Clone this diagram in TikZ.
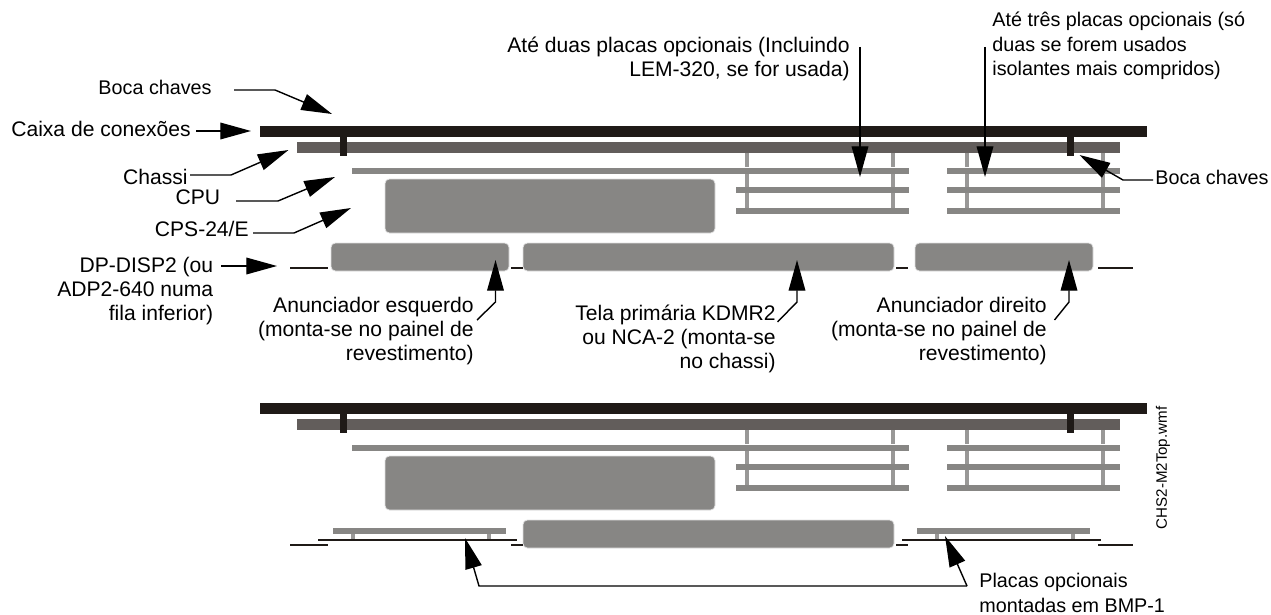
\documentclass[tikz,border=0pt]{standalone}
\usepackage{fontspec}
\setmainfont{Liberation Sans}
\usepackage{xcolor}
\usetikzlibrary{arrows.meta}
\definecolor{barblack}{HTML}{1F1A17}
\definecolor{barchassi}{HTML}{625D5B}
\definecolor{bargray}{HTML}{878684}
\definecolor{legray}{HTML}{999897}
\tikzset{x=.02cm, y=-.02cm,
 txt/.style={inner sep=0pt, font=\fontsize{12}{13.8}\selectfont},
 txts/.style={font=\fontsize{11.25}{13.8}\selectfont},
 txtl/.style={txt, anchor=east, align=right},
 txtr/.style={txt, anchor=west, align=left},
 pointer/.style={line width=.8pt, -{Triangle[length=17.5pt,width=9.5pt]}},
 thin line/.style={line width=.6pt, barblack},
 panel/.style={fill=bargray, draw=black!12, line width=.4pt, rounded corners=2.5pt},
 }

\begin{document}
\begin{tikzpicture}
        \useasboundingbox (0,0) rectangle (1271,615);
        % both rows share the same enclosure
        \foreach \y in {0, 277} {
            \foreach \a/\b in {745/749, 891/895, 965/969, 1101/1105} {
                \fill[legray] (\a, 153+\y) rectangle (\b, 167+\y);
                \fill[legray] (\a, 174+\y) rectangle (\b, 208+\y);
            }
            \fill[barblack] (260, 126+\y) rectangle (1147, 137+\y);
            \fill[barchassi] (297, 142+\y) rectangle (1120, 153+\y);
            \fill[barblack] (340, 137+\y) rectangle (347, 156+\y);
            \fill[barblack] (1067, 137+\y) rectangle (1074, 156+\y);
            \fill[bargray] (352, 168+\y) rectangle (909, 174+\y);
            \fill[bargray] (947, 168+\y) rectangle (1120, 174+\y);
            \foreach \r in {187, 208} {
                \fill[bargray] (736, \r+\y) rectangle (909, \r+6+\y);
                \fill[bargray] (947, \r+\y) rectangle (1120, \r+6+\y);
            }
            \draw[panel] (385, 179+\y) rectangle (715, 233+\y);
            \draw[panel] (523, 243+\y) rectangle (894, 271+\y);
            \draw[thin line] (290, 268+\y) -- (328, 268+\y);
            \draw[thin line] (511, 268+\y) -- (523, 268+\y);
            \draw[thin line] (896, 268+\y) -- (908, 268+\y);
            \draw[thin line] (1098, 268+\y) -- (1133, 268+\y);
        }
        % upper row only
        \draw[panel] (331, 243) rectangle (509, 271);
        \draw[panel] (915, 243) rectangle (1093, 271);
        % BMP-1 boards, lower row
        \foreach \a/\b/\c/\d/\e/\f in {318/517/333/506/351/487, 902/1101/917/1090/935/1071} {
            \fill[bargray] (\c, 528) rectangle (\d, 534);
            \fill[legray] (\e, 534) rectangle (\e+4, 540);
            \fill[legray] (\f, 534) rectangle (\f+4, 540);
            \draw[thin line] (\a, 540) -- (\b, 540);
        }

        \node[txtl, txts] (boca) at (212, 87) {Boca chaves};
        \node[txtl] (caixa) at (191, 129) {Caixa de conexões};
        \node[txtl] (chassi) at (188, 177) {Chassi};
        \node[txtl] (cpu) at (220.5, 197) {CPU};
        \node[txtl] (cps) at (249, 229) {CPS-24/E};
        \node[txtl] (disp) at (213.5, 291) {DP-DISP2 (ou\\ADP2-640 numa\\fila inferior)};
        \node[txtl] (anesq) at (474, 331) {Anunciador esquerdo\\(monta-se no painel de\\revestimento)};
        \node[txtl] (tela) at (776, 339) {Tela primária KDMR2\\ou NCA-2 (monta-se\\no chassi)};
        \node[txtl] (andir) at (1047, 331) {Anunciador direito\\(monta-se no painel de\\revestimento)};
        \node[txtl] (duas) at (850, 59) {Até duas placas opcionais (Incluindo\\LEM-320, se for usada)};
        \node[txtr, txts] (tres) at (992, 46) {Até três placas opcionais (só\\duas se forem usados\\isolantes mais compridos)};
        \node[txtr, txts] (bocad) at (1155, 177) {Boca chaves};
        \node[txtr, txts] (placas) at (979, 593) {Placas opcionais\\montadas em BMP-1};
        \node[txt, font=\fontsize{8.6}{10}\selectfont, rotate=90] (wmf) at (1163, 468) {CHS2-M2Top.wmf};

        \coordinate (bocatip) at (332, 114);
        \coordinate (caixatip) at (251, 131);
        \coordinate (chassitip) at (288.5, 150);
        \coordinate (cputip) at (335, 177);
        \coordinate (cpstip) at (351, 208);
        \coordinate (disptip) at (277, 266);
        \coordinate (anesqtip) at (495.5, 260);
        \coordinate (telatip) at (797, 260);
        \coordinate (andirtip) at (1069, 260);
        \coordinate (duastip) at (860, 177);
        \coordinate (trestip) at (985, 177);
        \coordinate (bocadtip) at (1079.5, 155);
        \coordinate (placaesq) at (465, 538);
        \coordinate (placadir) at (945, 536);

        \draw[pointer] ([shift={(22,3)}]boca.east) -- ++(41,0) -- (bocatip);
        \draw[pointer] ([shift={(5,2)}]caixa.east) -- (caixatip);
        \draw[pointer] ([shift={(2,-2)}]chassi.east) -- ++(41,0) -- (chassitip);
        \draw[pointer] ([shift={(15.5,4)}]cpu.east) -- ++(42,0) -- (cputip);
        \draw[pointer] ([shift={(4,4)}]cps.east) -- ++(41,0) -- (cpstip);
        \draw[pointer] ([shift={(7.5,-25)}]disp.east) -- (disptip);
        \draw[pointer] ([shift={(3,-11)}]anesq.east) -- ++(18.5,-18) -- (anesqtip);
        \draw[pointer] ([shift={(1.5,-17)}]tela.east) -- ++(19.5,-20) -- (telatip);
        \draw[pointer] ([shift={(7.5,-11)}]andir.east) -- ++(14.5,-18) -- (andirtip);
        \draw[pointer] ([shift={(10,-12)}]duas.east) -- (duastip);
        \draw[pointer] ([shift={(-7,1)}]tres.west) -- (trestip);
        \draw[pointer] ([shift={(-2,3)}]bocad.west) -- ++(-30,0) -- (bocadtip);
        \draw[pointer] ([shift={(-12,-7)}]placas.west) -- ++(-488,0) -- (placaesq);
        \draw[pointer] ([shift={(-12,-7)}]placas.west) -- (placadir);
    \end{tikzpicture}
\end{document}
